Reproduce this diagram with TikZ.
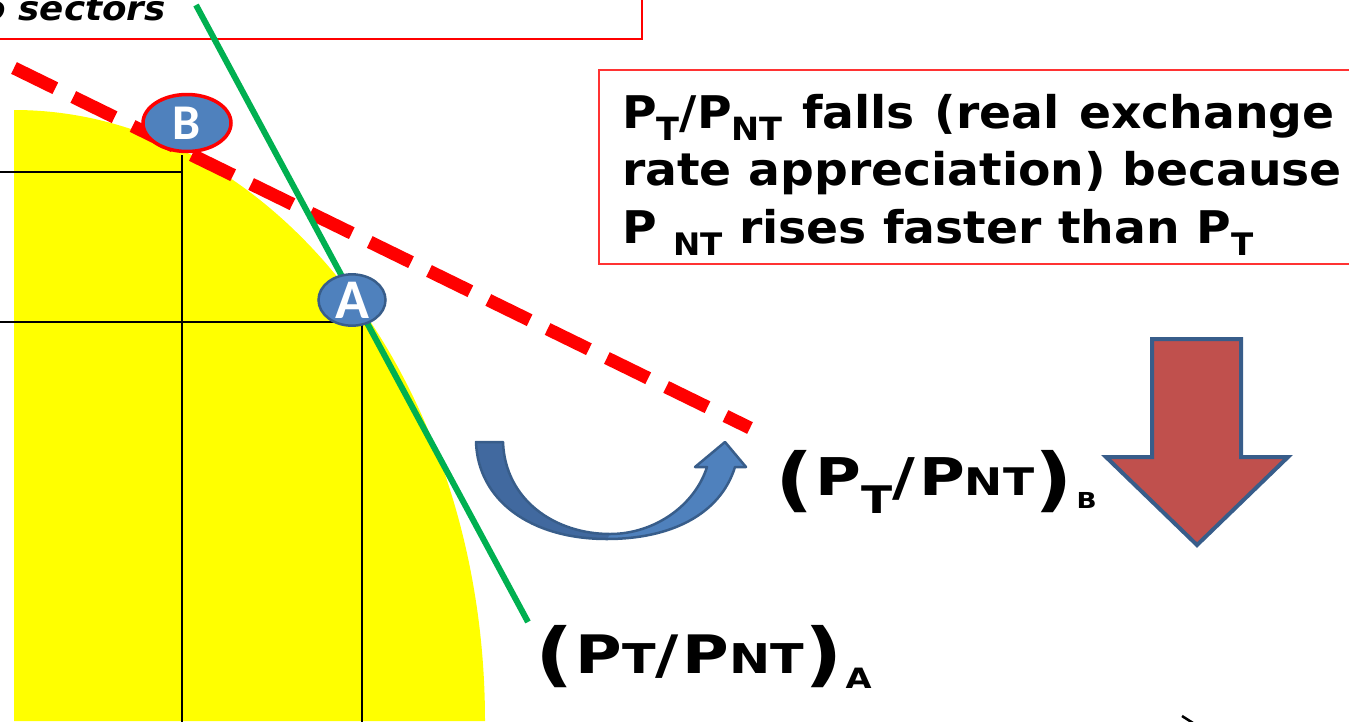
\documentclass[tikz,border=0pt]{standalone}
\usepackage{fontspec}
\usetikzlibrary{shapes.geometric}
\setmainfont{DejaVu Sans}
\newfontfamily\vfont{DejaVu Sans}[FakeStretch=1.05]
\newfontfamily\lfont{DejaVu Sans}[FakeStretch=1.2]
\newfontfamily\cfont{Carlito}
\newcommand{\fsz}[1]{\fontsize{#1}{#1}\selectfont}
\newcommand{\lowr}[3]{\raisebox{-#1pt}{\fsz{#2}#3}}
\definecolor{accblue}{HTML}{4F81BD}
\definecolor{darkblue}{HTML}{385D8A}
\definecolor{tailblue}{HTML}{41699F}
\definecolor{brick}{HTML}{C0504D}
\definecolor{pptgreen}{HTML}{00B050}
\definecolor{ppfyellow}{HTML}{FFFF00}
\begin{document}
\begin{tikzpicture}[x=1pt,y=-1pt,
  guide/.style={black,line width=1.5pt},
  ptnode/.style={ellipse,fill=accblue,text=white,inner sep=0pt,font=\cfont\bfseries},
  boxtext/.style={anchor=base west,inner sep=0pt,font=\vfont\bfseries\fsz{45}},
  lab/.style={anchor=base west,inner sep=0pt,font=\lfont\bfseries}]
\useasboundingbox (0,0) rectangle (1349,721);
% top box (cropped)
\draw[red,line width=2pt] (-20,-40) rectangle (642,39);
\node[anchor=base east,inner sep=0pt,font=\vfont\bfseries\itshape\fsz{34}] (toptxt) at (166,20) {two sectors};
% yellow PPF region
\fill[ppfyellow] (14,110) .. controls (274,110) and (485,384) .. (485,721) -- (14,721) -- cycle;
% guide lines
\draw[guide] (0,172) -- (182,172);
\draw[guide] (182,155) -- (182,725);
\draw[guide] (0,322) -- (362,322);
\draw[guide] (362,322) -- (362,725);
% price lines
\coordinate (rtop) at (14,68);
\coordinate (rbot) at (750,428);
\draw[red,line width=13pt,dash pattern=on 46pt off 20pt] (rtop) -- (rbot);
\coordinate (gtop) at (196,5);
\coordinate (gbot) at (528,622);
\draw[pptgreen,line width=6pt] (gtop) -- (gbot);
% points
\node[ptnode,draw=red,line width=3.5pt,minimum width=88pt,minimum height=57pt,font=\cfont\bfseries\fsz{50}] (B) at (187,123) {B};
\node[ptnode,draw=darkblue,line width=2.5pt,minimum width=67pt,minimum height=47pt,font=\cfont\bfseries\fsz{56}] (A) at (352,300) {A};
% explanation box
\draw[red!80,line width=1.5pt] (599,70) rectangle (1370,264);
\node[boxtext] (l1) at (622,128) {P\lowr{12}{32}{T}/P\lowr{12}{32}{NT}\hspace{3pt} falls\hspace{3pt} (real\hspace{3pt} exchange};
\node[boxtext] (l2) at (622,185) {rate appreciation) because};
\node[boxtext] (l3) at (622,243) {P \lowr{12}{31}{NT} rises faster than P\lowr{12}{31}{T}};
% curved arrow
\fill[accblue] (476,442) -- (503,442) .. controls (505,500) and (555,534) .. (610,534) .. controls (655,534) and (695,505) .. (707,467) -- (695,467) -- (725,442) -- (746,467) -- (735,467) .. controls (720,515) and (670,539) .. (607,539) .. controls (530,539) and (478,500) .. (476,442) -- cycle;
\fill[tailblue] (476,442) -- (503,442) .. controls (505,500) and (555,534) .. (610,534) -- (607,539) .. controls (530,539) and (478,500) .. (476,442) -- cycle;
\draw[darkblue,line width=2.5pt,line join=round] (476,442) -- (503,442) .. controls (505,500) and (555,534) .. (610,534) .. controls (655,534) and (695,505) .. (707,467) -- (695,467) -- (725,442) -- (746,467) -- (735,467) .. controls (720,515) and (670,539) .. (607,539) .. controls (530,539) and (478,500) .. (476,442) -- cycle;
% labels
\node[lab,font=\lfont\bfseries\fsz{52}] (labB) at (775,495) {\lowr{8}{70}{(}\hspace{2pt}P\lowr{18}{38}{T}/\hspace{4pt}P{\fsz{38}NT}\lowr{8}{70}{)}\hspace{4pt}\lowr{13}{22}{B}};
\node[lab,font=\lfont\bfseries\fsz{53}] (labA) at (535,673) {\lowr{5}{70}{(}\hspace{2pt}P{\fsz{41}T}/\hspace{4pt}P{\fsz{41}NT}\lowr{5}{70}{)}\hspace{3pt}\lowr{15}{28}{A}};
% down arrow
\draw[fill=brick,draw=darkblue,line width=4pt] (1152,339) -- (1241,339) -- (1241,457) -- (1288,457) -- (1197,545) -- (1106,457) -- (1152,457) -- cycle;
% cropped mark at bottom
\draw[black,line width=2.5pt] (1182,716) -- (1193,723);
\end{tikzpicture}
\end{document}
